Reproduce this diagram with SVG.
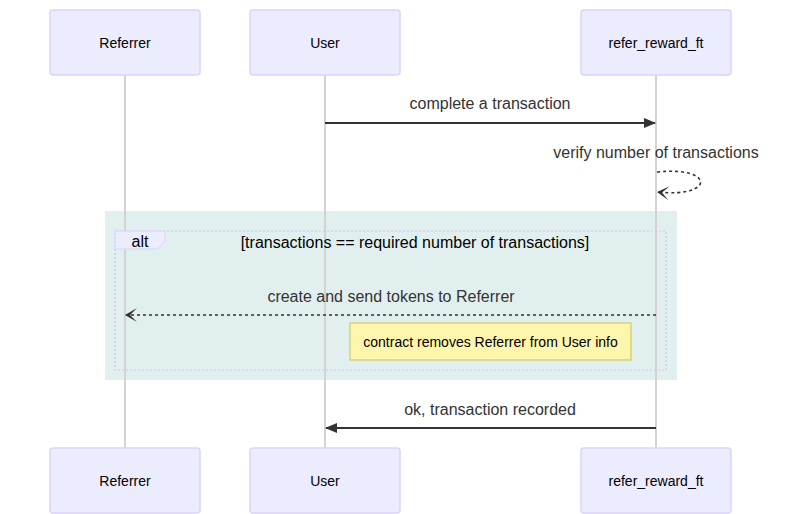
<svg xmlns="http://www.w3.org/2000/svg" width="812" height="514" viewBox="0 0 812 514">
<style>
.actor{fill:#ECECFF;stroke:#dcd4f6;stroke-width:1.5}
.atext{font-family:"Liberation Sans",Arial,sans-serif;font-size:14px;fill:#000;text-anchor:middle;dominant-baseline:central}
.life{stroke:#d3d3d3;stroke-width:2}
.msg{font-family:"Liberation Sans",Arial,sans-serif;font-size:16px;fill:#333;text-anchor:middle}
.solid{stroke:#333;stroke-width:2;fill:none}
.dash{stroke:#333;stroke-width:1.6;fill:none;stroke-dasharray:3,3}
.lbl{font-family:"Liberation Sans",Arial,sans-serif;font-size:16px;fill:#000;text-anchor:middle;dominant-baseline:central}
</style>
<defs>
<marker id="ah" viewBox="0 0 12 10" refX="11" refY="5" markerWidth="12" markerHeight="10" markerUnits="userSpaceOnUse" orient="auto">
<path d="M0,0 L12,5 L0,10 z" fill="#333"/>
</marker>
<marker id="oh" viewBox="0 0 12 14" refX="11" refY="7" markerWidth="12" markerHeight="14" markerUnits="userSpaceOnUse" orient="auto">
<path d="M12,7 L0,0 L7,7 L0,14 z" fill="#333"/>
</marker>
</defs>
<rect width="812" height="514" fill="#fff"/>
<rect x="105" y="211" width="572" height="169" fill="#e1f0ef"/>
<g id="lifelines">
<line class="life" x1="125" y1="75" x2="125" y2="448"/>
<line class="life" x1="325" y1="75" x2="325" y2="448"/>
<line class="life" x1="656" y1="75" x2="656" y2="448"/>
</g>
<g id="actor-referrer-top"><rect class="actor" x="50" y="10" width="150" height="65" rx="3"/><text class="atext" x="125" y="43">Referrer</text></g>
<g id="actor-user-top"><rect class="actor" x="250" y="10" width="150" height="65" rx="3"/><text class="atext" x="325" y="43">User</text></g>
<g id="actor-ft-top"><rect class="actor" x="581" y="10" width="150" height="65" rx="3"/><text class="atext" x="656" y="43">refer_reward_ft</text></g>
<g id="alt">
<rect x="115" y="231" width="551" height="139" fill="none" stroke="#cdc2ee" stroke-width="1.2" stroke-dasharray="2,2"/>
<path d="M115,231 L165,231 L165,242 L157,249 L115,249 z" fill="#ECECFF" stroke="#dcd4f6" stroke-width="1"/>
<text class="lbl" x="140" y="241">alt</text>
<text class="lbl" x="415" y="242">[transactions == required number of transactions]</text>
</g>
<g id="note">
<rect x="350" y="323" width="281" height="37" fill="#fff5ad" stroke="#cccc66" stroke-width="1.2"/>
<text class="atext" x="490.5" y="342">contract removes Referrer from User info</text>
</g>
<g id="connectors">
<text class="msg" x="490" y="109">complete a transaction</text>
<line class="solid" x1="325" y1="123" x2="655" y2="123" marker-end="url(#ah)"/>
<text class="msg" x="656" y="158">verify number of transactions</text>
<path class="dash" d="M657,172 C715,166 715,198 658,192" marker-end="url(#oh)"/>
<text class="msg" x="391" y="302">create and send tokens to Referrer</text>
<line class="dash" x1="656" y1="315" x2="126" y2="315" marker-end="url(#oh)"/>
<text class="msg" x="490" y="415">ok, transaction recorded</text>
<line class="solid" x1="656" y1="428" x2="326" y2="428" marker-end="url(#ah)"/>
</g>
<g id="actor-referrer-bottom"><rect class="actor" x="50" y="448" width="150" height="65" rx="3"/><text class="atext" x="125" y="481">Referrer</text></g>
<g id="actor-user-bottom"><rect class="actor" x="250" y="448" width="150" height="65" rx="3"/><text class="atext" x="325" y="481">User</text></g>
<g id="actor-ft-bottom"><rect class="actor" x="581" y="448" width="150" height="65" rx="3"/><text class="atext" x="656" y="481">refer_reward_ft</text></g>
</svg>
